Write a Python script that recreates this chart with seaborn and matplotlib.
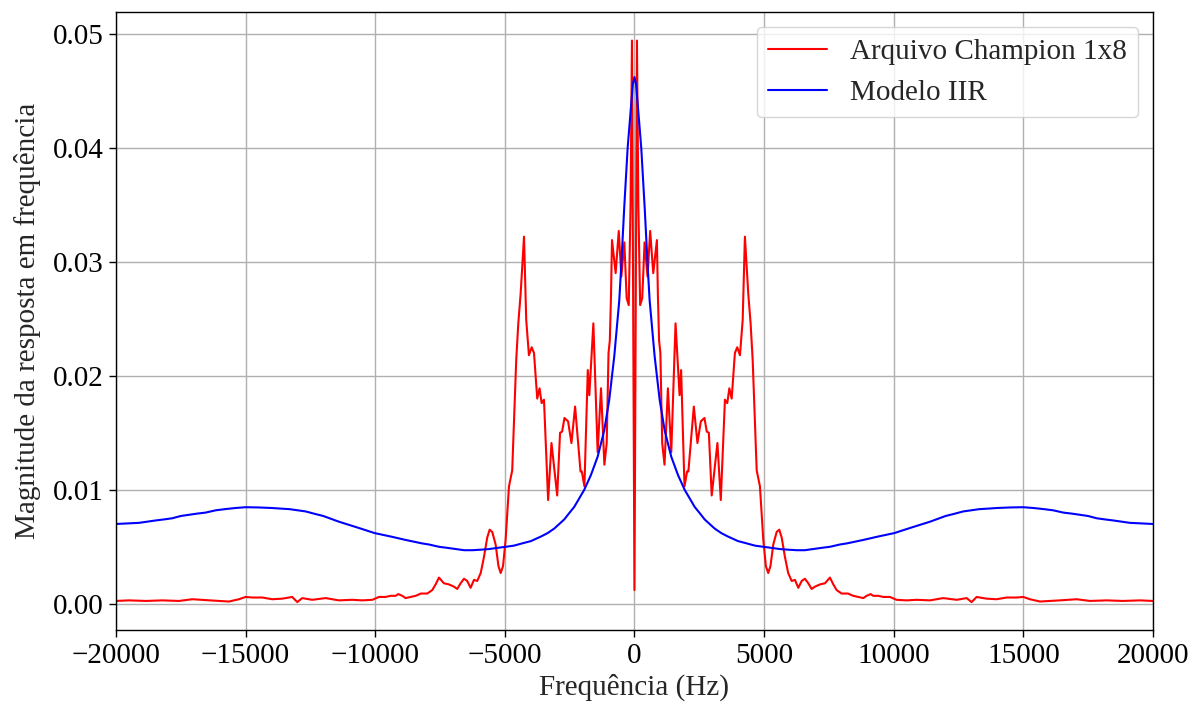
import numpy as np
import pandas as pd
import matplotlib
matplotlib.use("Agg")
import matplotlib.pyplot as plt
import seaborn as sns

# ---- data (positive-frequency half; spectrum is symmetric) ----
champion_freq = [0, 96, 150, 220, 300, 390, 505, 606, 725, 866, 905, 950, 1000, 1070, 1160,
                 1290, 1420, 1585, 1740, 1800, 1930, 2030, 2080, 2290, 2430, 2560, 2700, 2790,
                 2870, 2980, 3200, 3330, 3490, 3580, 3660, 3750, 3875, 3965, 4070, 4175, 4260,
                 4390, 4480, 4560, 4715, 4840, 4970, 5070, 5160, 5245, 5355, 5485, 5585, 5680,
                 5805, 5930, 6065, 6190, 6320, 6450, 6575, 6705, 6835, 6960, 7155, 7350, 7540,
                 7670, 7800, 7990, 8235, 8440, 8825, 8955, 9110, 9210, 9405, 9600, 9855, 10110,
                 10500, 10885, 11400, 11910, 12430, 12815, 13005, 13200, 13585, 13970, 14355,
                 14740, 15000, 15255, 15640, 16025, 16410, 17055, 17570, 18215, 18840, 19500, 20000]
champion_mag = [0.0012, 0.0494, 0.0350, 0.0262, 0.0268, 0.0317, 0.0287, 0.0327, 0.0290, 0.0319,
                0.0270, 0.0231, 0.0220, 0.0141, 0.0122, 0.0189, 0.0133, 0.0246, 0.0183, 0.0205,
                0.0103, 0.0116, 0.0116, 0.0173, 0.0141, 0.0160, 0.0163, 0.0151, 0.0150, 0.0095,
                0.0141, 0.0091, 0.0179, 0.0176, 0.0189, 0.0180, 0.0220, 0.0225, 0.0218, 0.0249,
                0.0322, 0.0272, 0.0246, 0.0214, 0.0117, 0.0103, 0.0056, 0.0033, 0.0027, 0.0033,
                0.0052, 0.0063, 0.0065, 0.0058, 0.0041, 0.0027, 0.0020, 0.0021, 0.0014, 0.0020,
                0.0022, 0.0018, 0.0013, 0.0015, 0.0017, 0.0018, 0.0023, 0.0017, 0.0012, 0.0009,
                0.0009, 0.0007, 0.0005, 0.0007, 0.00085, 0.0007, 0.0007, 0.0006, 0.0006, 0.00035,
                0.0003, 0.00035, 0.0003, 0.0005, 0.00035, 0.0005, 0.00015, 0.0006, 0.00045, 0.0004,
                0.00055, 0.00055, 0.0006, 0.0004, 0.0002, 0.00025, 0.0003, 0.0004, 0.00025, 0.0003,
                0.00025, 0.0003, 0.00025]

iir_freq = [0, 60, 130, 262, 393, 520, 586, 779, 972, 1165, 1420, 1678, 1936, 2322, 2500, 2708,
            2900, 3093, 3350, 3606, 3800, 3992, 4328, 4650, 4968, 5300, 5612, 5900, 6256, 6570,
            6885, 7200, 7540, 7925, 8200, 8825, 9400, 10020, 10700, 11050, 11400, 11700, 12000,
            12350, 12680, 13300, 13650, 13970, 14500, 15000, 15400, 15800, 16150, 16540, 16900,
            17200, 17500, 17830, 18150, 18500, 18800, 19110, 19550, 20000]
iir_mag = [0.0462, 0.0456, 0.0437, 0.0400, 0.0348, 0.0292, 0.0266, 0.0217, 0.0179, 0.0152, 0.0129,
           0.0113, 0.0100, 0.0085, 0.0080, 0.0074, 0.0070, 0.0066, 0.0062, 0.0059, 0.0057, 0.0055,
           0.0053, 0.0051, 0.0050, 0.0049, 0.0048, 0.00475, 0.0047, 0.0047, 0.0048, 0.0049, 0.0050,
           0.0052, 0.0053, 0.0056, 0.0059, 0.0062, 0.0067, 0.00695, 0.0072, 0.00745, 0.0077, 0.0079,
           0.0081, 0.0083, 0.00835, 0.0084, 0.00845, 0.00847, 0.0084, 0.0083, 0.0082, 0.0080,
           0.0079, 0.0078, 0.0077, 0.0075, 0.0074, 0.0073, 0.0072, 0.0071, 0.00705, 0.0070]

series_names = ["Arquivo Champion 1x8", "Modelo IIR"]


def mirror(f, v):
    f = np.asarray(f, float)
    v = np.asarray(v, float)
    return np.concatenate([-f[:0:-1], f]), np.concatenate([v[:0:-1], v])


cf, cv = mirror(champion_freq, champion_mag)
mf, mv = mirror(iir_freq, iir_mag)
df = pd.concat([
    pd.DataFrame({"f": cf, "m": cv, "s": series_names[0]}),
    pd.DataFrame({"f": mf, "m": mv, "s": series_names[1]}),
], ignore_index=True)

sns.set_style("ticks")
plt.rcParams["font.family"] = ["Liberation Serif", "DejaVu Serif"]

fig = plt.figure(figsize=(11.99, 7.09), dpi=100)
ax = fig.add_axes([0.0967, 0.1114, 0.9616 - 0.0967, 0.983 - 0.1114])

sns.lineplot(data=df, x="f", y="m", hue="s", palette={series_names[0]: "red", series_names[1]: "blue"},
             estimator=None, sort=False, linewidth=1.5, ax=ax)

ax.set_xlim(-20000, 20000)
ax.set_ylim(-0.0023, 0.0519)
ax.set_xticks([-20000, -15000, -10000, -5000, 0, 5000, 10000, 15000, 20000])
ax.set_yticks([0.0, 0.01, 0.02, 0.03, 0.04, 0.05])
ax.set_yticklabels(["0.00", "0.01", "0.02", "0.03", "0.04", "0.05"])
ax.set_xticklabels(["\u221220000", "\u221215000", "\u221210000", "\u22125000", "0",
                    "5000", "10000", "15000", "20000"])
ax.grid(True, color="#b0b0b0", linewidth=1.0)
for sp in ax.spines.values():
    sp.set_visible(True)
    sp.set_color("black")
    sp.set_linewidth(1.0)
ax.tick_params(labelsize=21, length=5, width=1, colors="black", pad=4)
ax.set_xlabel("Frequência (Hz)", fontsize=21, labelpad=4)
ax.set_ylabel("Magnitude da resposta em frequência", fontsize=21, labelpad=8)

leg = ax.legend(loc="upper right", fontsize=21, frameon=True, framealpha=0.8,
                edgecolor="#cccccc", fancybox=True, handlelength=2.0, borderaxespad=0.5)
leg.set_title(None)

fig.savefig("out.png", dpi=100)
